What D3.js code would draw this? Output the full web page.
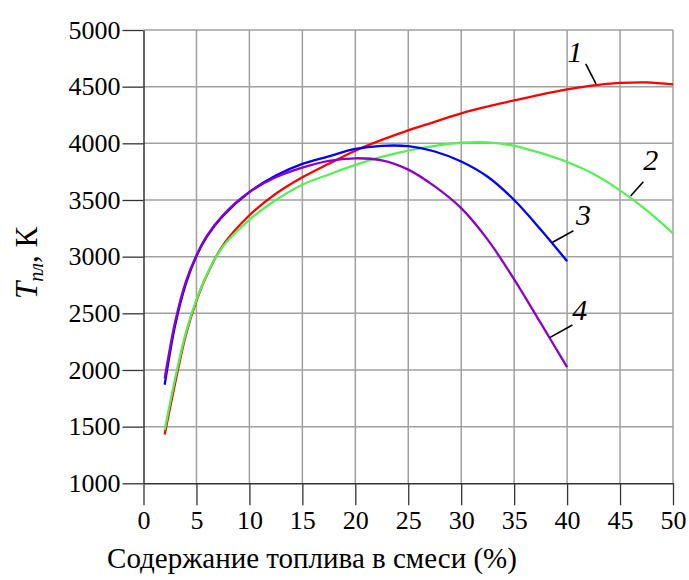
<!DOCTYPE html>
<html>
<head>
<meta charset="utf-8">
<script src="https://cdn.jsdelivr.net/npm/d3@7"></script>
<style>
  body { margin: 0; background: #fff; }
  text { font-family: "Liberation Serif", "Times New Roman", serif; fill: #000; }
</style>
</head>
<body>
<div class="chart-container"></div>
<script>
// содержание топлива, %
const xs = [2, 3, 4, 5, 6, 7.5, 10, 12.5, 15, 17.5, 20, 22.5, 25, 27.5, 30, 32.5, 35, 37.5, 40, 42.5, 45, 47.5, 50];
// температура, K (читаем с картинки)
const curve1 = [1430, 1890, 2310, 2610, 2840, 3100, 3365, 3555, 3700, 3820, 3935, 4030, 4115, 4190, 4265, 4325, 4378, 4430, 4476, 4512, 4533, 4538, 4520];
const curve2 = [1470, 1930, 2330, 2620, 2845, 3090, 3325, 3500, 3635, 3725, 3810, 3880, 3935, 3978, 4005, 4008, 3978, 3915, 3835, 3730, 3585, 3410, 3205];
const curve3 = [1870, 2400, 2760, 3006, 3180, 3360, 3570, 3715, 3818, 3885, 3950, 3978, 3975, 3928, 3840, 3705, 3500, 3240, 2960];
const curve4 = [1925, 2430, 2780, 3010, 3185, 3365, 3570, 3700, 3785, 3845, 3868, 3850, 3768, 3620, 3428, 3150, 2800, 2415, 2025];
const colors = ['#ff0000', '#55f055', '#0000ff', '#8c00c8'];

const xTicks = [0, 5, 10, 15, 20, 25, 30, 35, 40, 45, 50];
const yTicks = [1000, 1500, 2000, 2500, 3000, 3500, 4000, 4500, 5000];

// подписи кривых: текст, позиция текста и выноска (в координатах данных)
const labelNames = ['1', '2', '3', '4'];
const labelPos = [[40.75, 4719], [47.9, 3765], [41.55, 3279], [41.2, 2441]];
const leaderFrom = [[41.76, 4701], [47.2, 3661], [40.6, 3229], [40.5, 2397]];
const leaderTo = [[42.73, 4525], [46.0, 3535], [38.55, 3123], [38.4, 2288]];

const svg_width = 689, svg_height = 580;
const margin = { top: 30, right: 16, bottom: 96.7, left: 143.5 };
const width = svg_width - margin.left - margin.right;
const height = svg_height - margin.top - margin.bottom;

const svg = d3.select('.chart-container').append('svg')
  .attr('width', svg_width).attr('height', svg_height);
const g = svg.append('g').attr('transform', `translate(${margin.left},${margin.top})`);

const xScale = d3.scaleLinear().domain([0, 50]).range([0, width]);
const yScale = d3.scaleLinear().domain([1000, 5000]).range([height, 0]);

// сетка
g.append('g').selectAll('line').data(xTicks.slice(1)).enter().append('line')
  .attr('x1', d => xScale(d)).attr('x2', d => xScale(d))
  .attr('y1', 0).attr('y2', height)
  .attr('stroke', '#a0a0a0').attr('stroke-width', 1.5);
g.append('g').selectAll('line').data(yTicks.slice(1)).enter().append('line')
  .attr('x1', 0).attr('x2', width)
  .attr('y1', d => yScale(d)).attr('y2', d => yScale(d))
  .attr('stroke', '#a0a0a0').attr('stroke-width', 1.5);

// оси
const xAxis = d3.axisBottom(xScale).tickValues(xTicks).tickFormat(d3.format('d'))
  .tickSizeInner(22).tickSizeOuter(0).tickPadding(5);
const xAxisG = g.append('g').attr('transform', `translate(0,${height})`).call(xAxis);
const yAxis = d3.axisLeft(yScale).tickValues(yTicks).tickFormat(d3.format('d'))
  .tickSizeInner(21).tickSizeOuter(0).tickPadding(2);
const yAxisG = g.append('g').call(yAxis);
[xAxisG, yAxisG].forEach(a => {
  a.attr('font-family', '"Liberation Serif", serif').attr('font-size', 26);
  a.select('.domain').attr('stroke', '#333').attr('stroke-width', 1.5);
  a.selectAll('.tick line').attr('stroke', '#333').attr('stroke-width', 1.3);
  a.selectAll('.tick text').attr('fill', '#000');
});

// кривые
const series = [curve1, curve2, curve3, curve4].map((vals, i) => ({
  color: colors[i],
  values: vals.map((v, j) => ({ x: xs[j], y: v }))
}));
const lineGen = d3.line().x(d => xScale(d.x)).y(d => yScale(d.y)).curve(d3.curveCatmullRom.alpha(0.5));
g.append('g').selectAll('path').data(series).enter().append('path')
  .attr('d', d => lineGen(d.values))
  .attr('fill', 'none')
  .attr('stroke', d => d.color)
  .attr('stroke-width', 2.3);

// выноски и номера
g.append('g').selectAll('line').data(labelNames).enter().append('line')
  .attr('x1', (d, i) => xScale(leaderFrom[i][0])).attr('y1', (d, i) => yScale(leaderFrom[i][1]))
  .attr('x2', (d, i) => xScale(leaderTo[i][0])).attr('y2', (d, i) => yScale(leaderTo[i][1]))
  .attr('stroke', '#000').attr('stroke-width', 1.6);
g.append('g').selectAll('text').data(labelNames).enter().append('text')
  .attr('x', (d, i) => xScale(labelPos[i][0])).attr('y', (d, i) => yScale(labelPos[i][1]))
  .attr('text-anchor', 'middle')
  .style('font-size', '30px').style('font-style', 'italic')
  .text(d => d);

// подписи осей
svg.append('text')
  .attr('x', 312).attr('y', 568)
  .attr('text-anchor', 'middle')
  .style('font-size', '29px')
  .text('Содержание топлива в смеси (%)');

const yLabel = svg.append('text')
  .attr('transform', 'translate(37,263) rotate(-90)')
  .attr('text-anchor', 'middle')
  .style('font-size', '31px');
yLabel.append('tspan').style('font-style', 'italic').text('T');
yLabel.append('tspan').style('font-style', 'italic').style('font-size', '20px').attr('dy', 6).text('пл');
yLabel.append('tspan').attr('dy', -6).text(', К');
</script>
</body>
</html>
